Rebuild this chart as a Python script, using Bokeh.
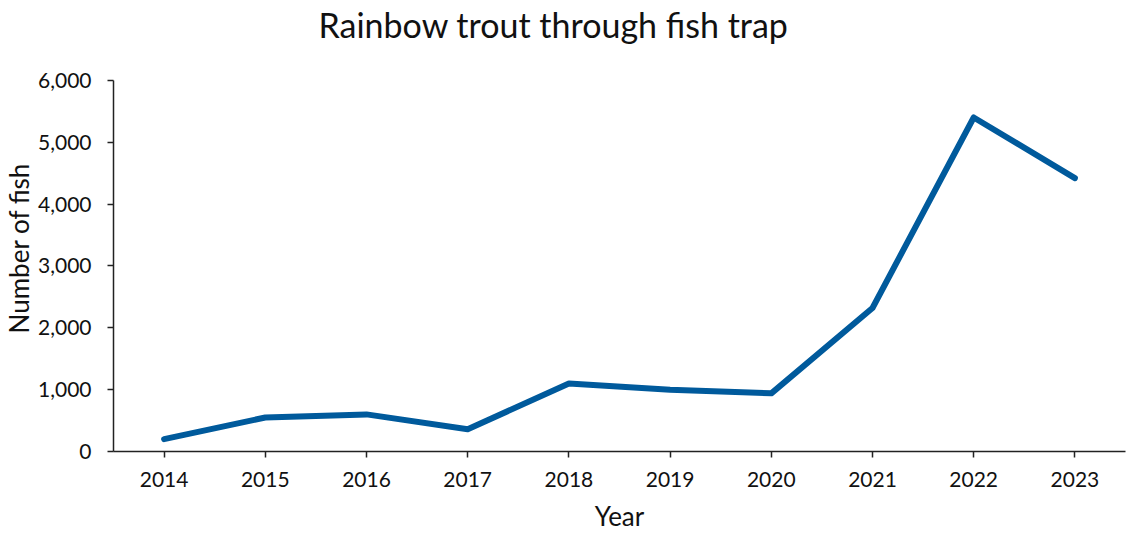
from bokeh.plotting import figure
from bokeh.models import FactorRange, Range1d, FixedTicker, NumeralTickFormatter, ColumnDataSource
from bokeh.embed import file_html
from bokeh.resources import INLINE

years = ["2014", "2015", "2016", "2017", "2018", "2019", "2020", "2021", "2022", "2023"]
fish = [200, 550, 600, 360, 1100, 1000, 940, 2320, 5400, 4420]
y_ticks = [0, 1000, 2000, 3000, 4000, 5000, 6000]
title_text = "Rainbow trout through fish trap"

FONT = "Lato"
src = ColumnDataSource(dict(year=years, fish=fish))

# frame extends a little above the 6,000 tick so the title can sit close to the top;
# the y axis line itself is bounded to 0..6,000
p = figure(width=1126, height=534, output_backend="svg", toolbar_location=None,
           x_range=FactorRange(*years, range_padding=0), y_range=Range1d(0, 6580),
           min_border_left=113, min_border_right=1, min_border_top=44, min_border_bottom=81,
           title=title_text)
p.line("year", "fish", source=src, line_color="#005A9C", line_width=6, line_cap="round", line_join="round")

p.title.text_font = FONT
p.title.text_font_size = "34px"
p.title.text_font_style = "normal"
p.title.align = "left"
p.title.offset = 205
p.title.standoff = 0
p.title.text_color = "#111111"

p.xgrid.visible = False
p.ygrid.visible = False
p.outline_line_color = None

for ax in (p.xaxis[0], p.yaxis[0]):
    ax.axis_line_color = "#222222"
    ax.axis_line_width = 1.5
    ax.major_tick_line_color = "#222222"
    ax.major_tick_line_width = 1.5
    ax.major_tick_in = 0
    ax.major_tick_out = 6
    ax.minor_tick_line_color = None
    ax.major_label_text_font = FONT
    ax.major_label_text_font_size = "21px"
    ax.major_label_text_color = "#111111"
    ax.axis_label_text_font = FONT
    ax.axis_label_text_font_size = "26px"
    ax.axis_label_text_font_style = "normal"
    ax.axis_label_text_color = "#111111"

p.xaxis.axis_label = "Year"
p.xaxis.major_label_standoff = 14
p.xaxis.axis_label_standoff = 10
p.yaxis.axis_label = "Number of fish"
p.yaxis.ticker = FixedTicker(ticks=y_ticks)
p.yaxis.bounds = (0, 6000)
p.yaxis.formatter = NumeralTickFormatter(format="0,0")
p.yaxis.major_label_standoff = 16
p.yaxis.axis_label_standoff = 0

open("out.html", "w").write(file_html(p, INLINE))
